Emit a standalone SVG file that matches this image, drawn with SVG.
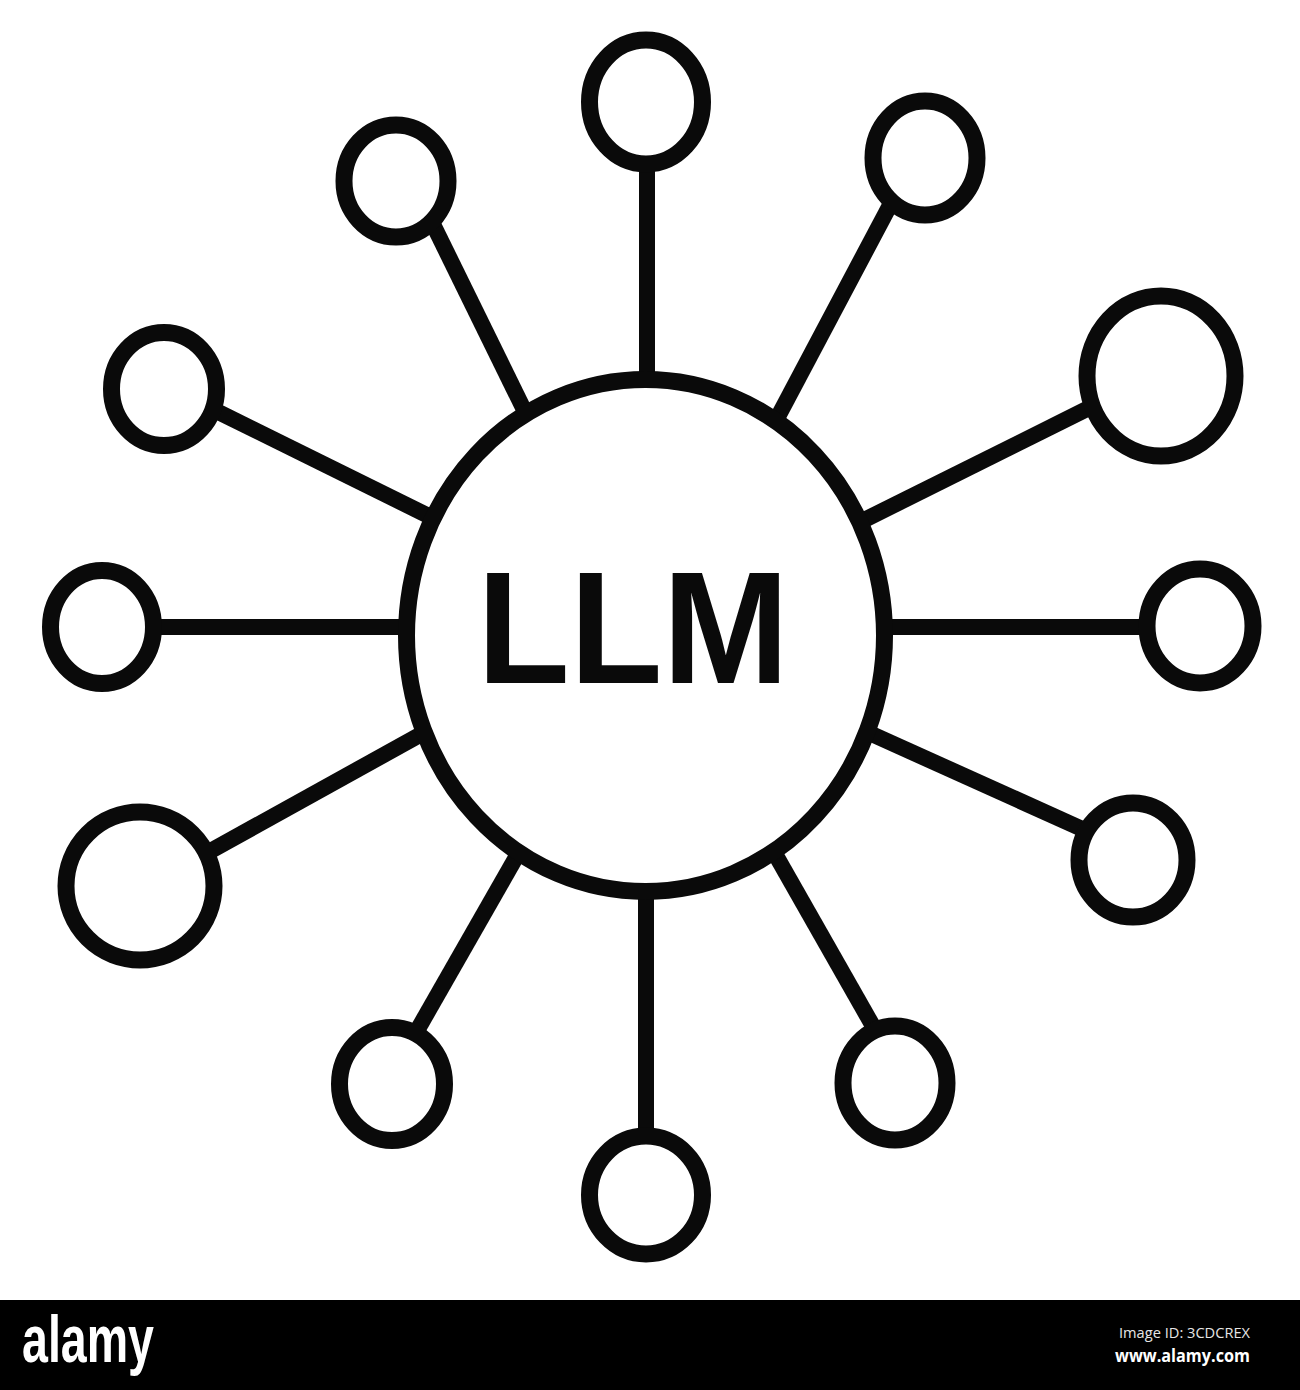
<svg xmlns="http://www.w3.org/2000/svg" width="1300" height="1390" viewBox="0 0 1300 1390">
  <style>
    .edge { stroke: #0a0a0a; stroke-width: 16; stroke-linecap: butt; fill: none; }
    .node { fill: #ffffff; stroke: #0a0a0a; stroke-width: 17; }
    .hub { fill: #ffffff; stroke: #0a0a0a; stroke-width: 17; }
    .hubtext { font-family: "Liberation Sans", Arial, sans-serif; font-weight: bold; font-size: 160px; fill: #0a0a0a; }
    .logo { font-family: "Liberation Sans Narrow", "Liberation Sans", sans-serif; font-weight: bold; font-size: 66px; fill: #ffffff; }
    .imgid { font-family: "Open Sans", "DejaVu Sans", sans-serif; font-size: 15px; fill: #e6e6e6; }
    .url { font-family: "Open Sans", "DejaVu Sans", sans-serif; font-weight: bold; font-size: 18px; fill: #ffffff; }
  </style>
  <rect x="0" y="0" width="1300" height="1390" fill="#ffffff"/>

  <g id="connectors">
    <line class="edge" x1="647" y1="150" x2="647" y2="390"/>
    <line class="edge" x1="897" y1="192" x2="772" y2="428"/>
    <line class="edge" x1="1103" y1="401" x2="848" y2="528"/>
    <line class="edge" x1="1160" y1="627" x2="870" y2="627"/>
    <line class="edge" x1="1100" y1="837" x2="856" y2="727"/>
    <line class="edge" x1="882" y1="1042" x2="770" y2="845"/>
    <line class="edge" x1="646" y1="1150" x2="646" y2="880"/>
    <line class="edge" x1="410" y1="1043" x2="523" y2="845"/>
    <line class="edge" x1="196" y1="859" x2="436" y2="726"/>
    <line class="edge" x1="140" y1="627" x2="420" y2="627"/>
    <line class="edge" x1="198" y1="402" x2="443" y2="523"/>
    <line class="edge" x1="426" y1="210" x2="530" y2="422"/>
  </g>

  <g id="hub">
    <ellipse class="hub" cx="645.5" cy="635.5" rx="239" ry="256"/>
    <text class="hubtext" x="477" y="683" textLength="312" lengthAdjust="spacingAndGlyphs">LLM</text>
  </g>

  <g id="node-n"><ellipse class="node" cx="646" cy="102" rx="56.5" ry="62"/></g>
  <g id="node-nne"><ellipse class="node" cx="925" cy="158" rx="52" ry="57"/></g>
  <g id="node-ene"><ellipse class="node" cx="1161" cy="376" rx="74" ry="80"/></g>
  <g id="node-e"><ellipse class="node" cx="1200" cy="626" rx="53" ry="57"/></g>
  <g id="node-ese"><ellipse class="node" cx="1133" cy="860" rx="54" ry="57"/></g>
  <g id="node-sse"><ellipse class="node" cx="895" cy="1083" rx="52" ry="57"/></g>
  <g id="node-s"><ellipse class="node" cx="646" cy="1195" rx="56.5" ry="59"/></g>
  <g id="node-ssw"><ellipse class="node" cx="392" cy="1084" rx="52.5" ry="56.5"/></g>
  <g id="node-wsw"><ellipse class="node" cx="140" cy="886" rx="74" ry="74"/></g>
  <g id="node-w"><ellipse class="node" cx="102" cy="627" rx="51.5" ry="56.5"/></g>
  <g id="node-wnw"><ellipse class="node" cx="164" cy="389" rx="52.5" ry="56.5"/></g>
  <g id="node-nnw"><ellipse class="node" cx="396" cy="181" rx="52" ry="56"/></g>

  <g id="banner">
    <rect x="0" y="1300" width="1300" height="90" fill="#000000"/>
    <text class="logo" x="22" y="1362" textLength="132" lengthAdjust="spacingAndGlyphs">alamy</text>
    <text class="imgid" x="1250" y="1338" text-anchor="end" textLength="131" lengthAdjust="spacingAndGlyphs">Image ID: 3CDCREX</text>
    <text class="url" x="1250" y="1362" text-anchor="end" textLength="135" lengthAdjust="spacingAndGlyphs">www.alamy.com</text>
  </g>
</svg>
